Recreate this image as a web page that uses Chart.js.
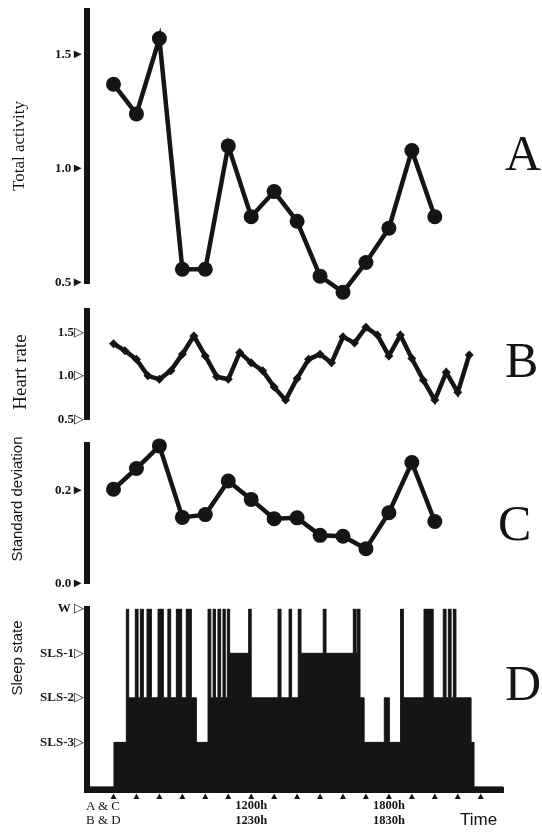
<!DOCTYPE html>
<html lang="en">
<head>
  <meta charset="UTF-8" />
  <title>Activity, heart rate and sleep state</title>
  <style>
    body {
      margin: 0;
      background: #fff;
    }
    #fig {
      position: relative;
      width: 542px;
      height: 833px;
      background: #fff;
      overflow: hidden;
    }
    canvas {
      position: absolute;
      left: 0;
    }
    .ytitle {
      position: absolute;
      white-space: nowrap;
      line-height: 1;
      color: #141414;
      transform: translate(-50%, -50%) rotate(-90deg);
    }
    .serif { font-family: "Liberation Serif", "DejaVu Serif", serif; }
    .sans { font-family: "Liberation Sans", Arial, sans-serif; }
    .panel {
      position: absolute;
      font-family: "Liberation Serif", "DejaVu Serif", serif;
      font-size: 50px;
      line-height: 50px;
      color: #141414;
    }
    .note {
      position: absolute;
      color: #141414;
    }
  </style>
</head>
<body>
<div id="fig">
  <canvas id="chartA" width="542" height="305" style="top:0px"></canvas>
  <canvas id="chartB" width="542" height="130" style="top:300px"></canvas>
  <canvas id="chartC" width="542" height="168" style="top:430px"></canvas>
  <canvas id="chartD" width="542" height="235" style="top:598px"></canvas>

  <div class="ytitle serif" style="left:18px; top:146px; font-size:17px">Total activity</div>
  <div class="ytitle serif" style="left:19px; top:372px; font-size:19px">Heart rate</div>
  <div class="ytitle sans" style="left:16px; top:499px; font-size:15px">Standard deviation</div>
  <div class="ytitle sans" style="left:16px; top:658px; font-size:15px">Sleep state</div>

  <div class="panel" style="left:505px; top:128px">A</div>
  <div class="panel" style="left:505px; top:335px">B</div>
  <div class="panel" style="left:498px; top:498px">C</div>
  <div class="panel" style="left:505px; top:658px">D</div>

  <div class="note serif" style="left:86px; top:799px; font-size:13px; line-height:14px">A &amp; C<br>B &amp; D</div>
  <div class="note sans" style="left:460px; top:811px; font-size:17px; line-height:17px">Time</div>
</div>

<script src="https://cdn.jsdelivr.net/npm/chart.js"></script>
<script>
  // ---- data ----
  // A & C: hourly values, clock of A & C (hours)
  const hourlyTimes = [6, 7, 8, 9, 10, 11, 12, 13, 14, 15, 16, 17, 18, 19, 20];
  const totalActivity = [1.37, 1.24, 1.57, 0.56, 0.56, 1.10, 0.79, 0.90, 0.77, 0.53, 0.46, 0.59, 0.74, 1.08, 0.79];
  const stdDeviation = [0.204, 0.249, 0.298, 0.143, 0.149, 0.222, 0.182, 0.140, 0.142, 0.104, 0.102, 0.075, 0.153, 0.262, 0.134];

  // B: half-hourly heart rate, clock of B & D (hours)
  const hrTimes = [6.5, 7, 7.5, 8, 8.5, 9, 9.5, 10, 10.5, 11, 11.5, 12, 12.5, 13, 13.5, 14,
                   14.5, 15, 15.5, 16, 16.5, 17, 17.5, 18, 18.5, 19, 19.5, 20, 20.5, 21, 21.5, 22];
  const heartRate = [1.37, 1.29, 1.19, 1.00, 0.96, 1.06, 1.25, 1.46, 1.23, 0.99, 0.96, 1.27, 1.15, 1.06, 0.87, 0.72,
                     0.97, 1.19, 1.25, 1.15, 1.45, 1.38, 1.56, 1.47, 1.23, 1.47, 1.20, 0.95, 0.72, 1.04, 0.81, 1.24];

  // D: hypnogram, state change times (clock of B & D) and state from then on
  // 0 = off record, 1 = SLS-3, 2 = SLS-2, 3 = SLS-1, 4 = W
  const sleepTimes = [5.35, 6.52, 7.06, 7.16, 7.45, 7.57, 7.67, 7.80, 7.96, 8.15, 8.44, 8.67, 8.87, 8.99,
                      9.24, 9.47, 9.67, 9.89, 10.11, 10.62, 10.74, 10.84, 10.94, 11.05, 11.17, 11.27, 11.37,
                      11.46, 11.56, 12.39, 12.50, 13.67, 13.80, 14.15, 14.26, 14.55, 14.67, 15.64, 15.76,
                      16.95, 17.07, 17.12, 17.24, 17.42, 18.30, 18.52, 19.01, 19.13, 20.03, 20.43, 20.87,
                      20.99, 21.09, 21.21, 21.31, 21.42, 22.08, 22.21, 23.47];
  const sleepStates = [0, 1, 4, 2, 4, 2, 4, 2, 4, 2, 4, 2, 4, 2,
                       4, 2, 4, 2, 1, 4, 2, 4, 2, 4, 2, 4, 2,
                       4, 3, 4, 2, 4, 2, 4, 2, 4, 3, 4, 3,
                       4, 3, 4, 2, 1, 2, 1, 4, 2, 4, 2, 4,
                       2, 4, 2, 4, 2, 1, 0, 0];

  // tick labels
  const activityTicks = [0.5, 1.0, 1.5];
  const activityTickText = ['0.5', '1.0', '1.5'];
  const hrTicks = [0.5, 1.0, 1.5];
  const hrTickText = ['0.5', '1.0', '1.5'];
  const sdTicks = [0.0, 0.2];
  const sdTickText = ['0.0', '0.2'];
  const sleepTicks = [1, 2, 3, 4];
  const sleepTickText = ['SLS-3', 'SLS-2', 'SLS-1', 'W '];
  const clockTicks = [6.5, 7.5, 8.5, 9.5, 10.5, 11.5, 12.5, 13.5, 14.5, 15.5, 16.5, 17.5, 18.5, 19.5, 20.5, 21.5, 22.5];
  const clockLabelAt = [12.5, 18.5];
  const clockLabelAC = ['1200h', '1800h'];
  const clockLabelBD = ['1230h', '1830h'];

  // ---- layout ----
  const INK = '#151515';
  const AXIS_X = 87;          // y axis bar
  const RIGHT_PAD = 39;       // plot ends at x = 503
  const T0_PX = 113.5;        // first time tick
  const HOUR_PX = 22.95;
  const tickFont = { family: "'Liberation Serif', 'DejaVu Serif', serif", size: 13, weight: 'bold' };

  function xRange(t0) {
    return {
      min: t0 - (T0_PX - AXIS_X) / HOUR_PX,
      max: t0 + (542 - RIGHT_PAD - T0_PX) / HOUR_PX
    };
  }

  function yAxis(min, max, ticks, texts, mark) {
    return {
      min: min,
      max: max,
      grid: { display: false, drawTicks: false },
      border: { display: true, width: 6, color: INK },
      afterBuildTicks: s => { s.ticks = ticks.map(v => ({ value: v })); },
      afterFit: s => { s.width = AXIS_X; },
      ticks: {
        padding: 3,
        color: INK,
        font: tickFont,
        callback: v => texts[ticks.indexOf(v)] + mark
      }
    };
  }

  function options(pad, t0, y, xAxis) {
    const r = xRange(t0);
    return {
      responsive: false,
      animation: false,
      events: [],
      layout: { autoPadding: false, padding: { left: 0, right: RIGHT_PAD, top: pad[0], bottom: pad[1] } },
      plugins: { legend: { display: false }, tooltip: { enabled: false } },
      scales: {
        x: Object.assign({ type: 'linear', display: false, min: r.min, max: r.max }, xAxis || {}),
        y: y
      }
    };
  }

  function series(times, values) {
    return times.map((t, i) => ({ x: t, y: values[i] }));
  }

  // A: total activity (one point lies under the 0.5 end of the axis, so the
  // hover radius is raised to keep it from being culled)
  new Chart(document.getElementById('chartA'), {
    type: 'line',
    data: {
      datasets: [{
        data: series(hourlyTimes, totalActivity),
        borderColor: INK,
        borderWidth: 4.5,
        pointRadius: 7.5,
        pointHoverRadius: 14,
        pointBackgroundColor: INK,
        pointBorderWidth: 0,
        clip: false
      }]
    },
    options: options([9, 22], 6, yAxis(0.5, 1.6913, activityTicks, activityTickText, '\u25BA'))
  });

  // B: heart rate
  new Chart(document.getElementById('chartB'), {
    type: 'line',
    data: {
      datasets: [{
        data: series(hrTimes, heartRate),
        borderColor: INK,
        borderWidth: 4.5,
        pointStyle: 'rectRot',
        pointRadius: 4.5,
        pointHoverRadius: 8,
        pointBackgroundColor: INK,
        pointBorderWidth: 0,
        clip: false
      }]
    },
    options: options([7, 10.5], 6.5, yAxis(0.5, 1.75, hrTicks, hrTickText, '\u25B7'))
  });

  // C: standard deviation
  new Chart(document.getElementById('chartC'), {
    type: 'line',
    data: {
      datasets: [{
        data: series(hourlyTimes, stdDeviation),
        borderColor: INK,
        borderWidth: 4.5,
        pointRadius: 7.5,
        pointHoverRadius: 14,
        pointBackgroundColor: INK,
        pointBorderWidth: 0,
        clip: false
      }]
    },
    options: options([15, 14.7], 6, yAxis(0, 0.30, sdTicks, sdTickText, '\u25BA'))
  });

  // D: sleep state hypnogram
  const tickMarks = {
    id: 'tickMarks',
    afterDraw(chart) {
      const xs = chart.scales.x;
      const ctx = chart.ctx;
      const y0 = chart.chartArea.bottom + 3.5;
      ctx.save();
      ctx.fillStyle = INK;
      xs.ticks.forEach(t => {
        const px = xs.getPixelForValue(t.value);
        ctx.beginPath();
        ctx.moveTo(px, y0);
        ctx.lineTo(px + 3, y0 + 5.5);
        ctx.lineTo(px - 3, y0 + 5.5);
        ctx.closePath();
        ctx.fill();
      });
      ctx.restore();
    }
  };

  new Chart(document.getElementById('chartD'), {
    type: 'line',
    data: {
      datasets: [{
        data: series(sleepTimes, sleepStates),
        stepped: true,
        fill: 'origin',
        backgroundColor: INK,
        borderColor: INK,
        borderWidth: 1,
        pointRadius: 0
      }]
    },
    options: options([7, 0], 6.5, yAxis(-0.07, 4, sleepTicks, sleepTickText, '\u25B7'), {
      display: true,
      grid: { display: false, drawTicks: false },
      border: { display: true, width: 6, color: INK },
      afterBuildTicks: s => { s.ticks = clockTicks.map(v => ({ value: v })); },
      afterFit: s => { s.height = 43; },
      ticks: {
        autoSkip: false,
        maxRotation: 0,
        padding: 8,
        color: INK,
        font: { family: "'Liberation Serif', 'DejaVu Serif', serif", size: 12.5, weight: 'bold', lineHeight: 1.2 },
        callback: v => {
          const i = clockLabelAt.indexOf(v);
          return i < 0 ? '' : [clockLabelAC[i], clockLabelBD[i]];
        }
      }
    }),
    plugins: [tickMarks]
  });
</script>
</body>
</html>
